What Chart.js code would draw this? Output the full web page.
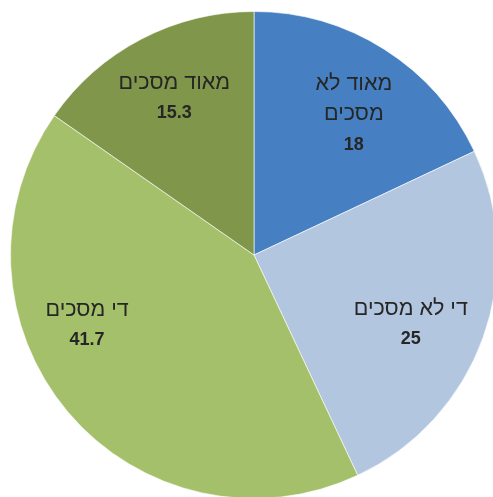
<!DOCTYPE html>
<html>
<head>
<meta charset="utf-8">
<script src="https://cdn.jsdelivr.net/npm/chart.js@4"></script>
<style>
  html, body { margin: 0; padding: 0; background: #fff; overflow: hidden; width: 493px; height: 497px; }
  .pie-wrap { position: absolute; left: 10px; top: 11px; width: 488px; height: 488px; }
</style>
</head>
<body>
<div class="pie-wrap"><canvas id="pieChart" width="488" height="488"></canvas></div>
<script>
const categories = ['מאוד לא מסכים', 'די לא מסכים', 'די מסכים', 'מאוד מסכים'];
const values = [18, 25, 41.7, 15.3];
const valueLabels = ['18', '25', '41.7', '15.3'];
const sliceColors = ['#4680C2', '#B3C6DF', '#A4C06A', '#80974B'];

// how each category label is broken into lines (layout only)
const wrapAt = { 0: ['מאוד לא', 'מסכים'] };
// Excel "best fit" placement: nudge off the mid angle (deg) and radius fraction
const labelNudge = [
    { da: 2.6, r: 0.715 },
    { da: 3.3, r: 0.70 },
    { da: 18, r: 0.74 },
    { da: 0.9, r: 0.73 }
];

const sliceLabels = {
    id: 'sliceLabels',
    afterDatasetsDraw(chart) {
        const ctx = chart.ctx;
        const meta = chart.getDatasetMeta(0);
        ctx.save();
        ctx.fillStyle = '#262626';
        ctx.textAlign = 'center';
        ctx.textBaseline = 'middle';
        ctx.direction = 'rtl';
        meta.data.forEach((arc, i) => {
            const p = arc.getProps(['x', 'y', 'startAngle', 'endAngle', 'outerRadius'], true);
            const n = labelNudge[i];
            const mid = (p.startAngle + p.endAngle) / 2 + n.da * Math.PI / 180;
            const d = p.outerRadius * n.r;
            const cx = p.x + Math.cos(mid) * d;
            const cy = p.y + Math.sin(mid) * d + 2;
            const all = (wrapAt[i] || [categories[i]]).concat([valueLabels[i]]);
            const lh = 30.5;
            let y = cy - (all.length - 1) * lh / 2;
            all.forEach((txt, k) => {
                if (k === all.length - 1) {
                    ctx.font = 'bold 18px "Liberation Sans", Arial, sans-serif';
                } else {
                    ctx.font = '21.5px "Liberation Sans", Arial, sans-serif';
                }
                ctx.fillText(txt, cx, y);
                y += lh;
            });
        });
        ctx.restore();
    }
};

new Chart(document.getElementById('pieChart').getContext('2d'), {
    type: 'pie',
    data: {
        labels: categories,
        datasets: [{
            data: values,
            backgroundColor: sliceColors,
            borderColor: 'rgba(255,255,255,0.6)',
            borderWidth: 1
        }]
    },
    options: {
        responsive: false,
        animation: false,
        layout: { padding: 0 },
        plugins: {
            legend: { display: false },
            tooltip: { enabled: false }
        }
    },
    plugins: [sliceLabels]
});
</script>
</body>
</html>
